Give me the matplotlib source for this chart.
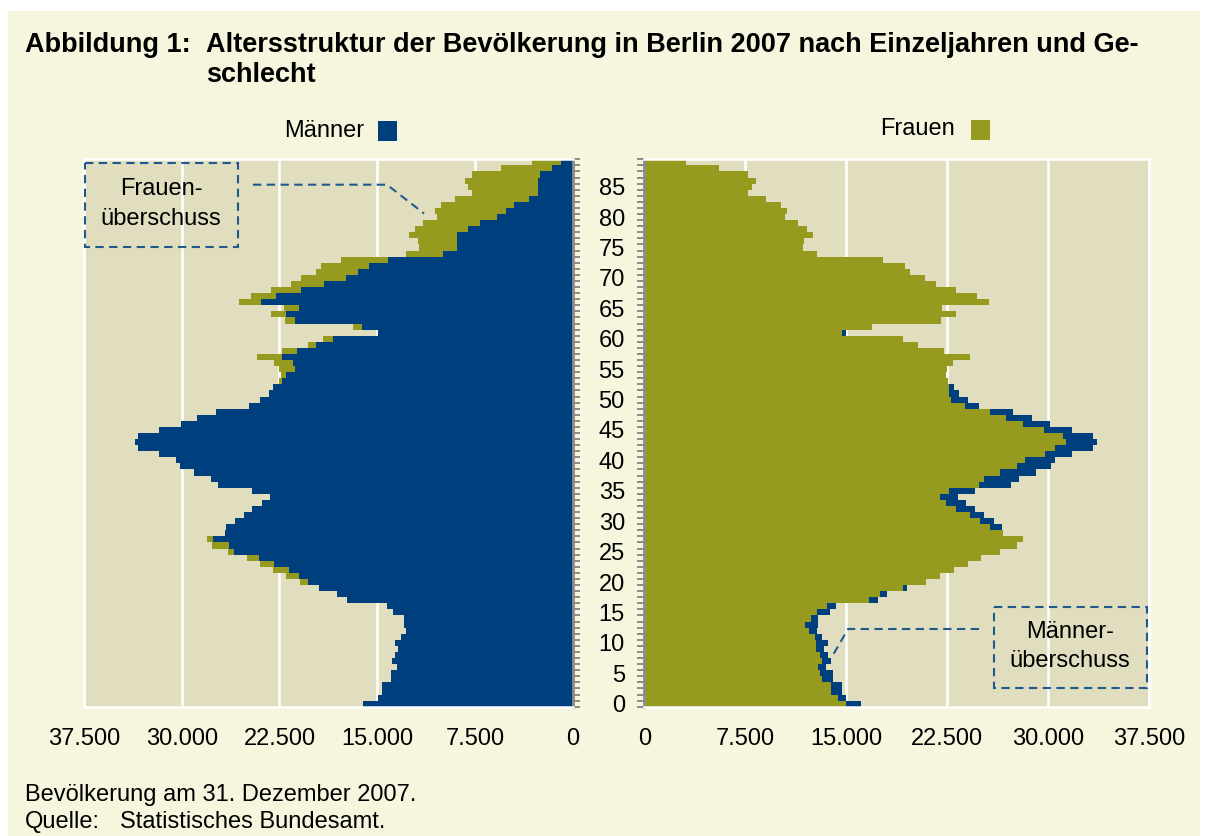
import matplotlib
matplotlib.use("Agg")
import matplotlib.pyplot as plt
import numpy as np
from matplotlib.patches import Rectangle

plt.rcParams['font.family'] = ['Liberation Sans', 'DejaVu Sans']

# Bevölkerung Berlin 2007 nach Einzeljahren (Alter 0..89)
ages = list(range(90))
men = [16100, 14950, 14650, 14650, 13980, 13980, 13520, 13830, 13670, 13370,
       13670, 13180, 12800, 12920, 12920, 13820, 14240, 17330, 18050, 19490,
       20300, 21000, 21770, 22920, 24070, 25990, 26370, 27600, 26650, 26580,
       25940, 25220, 24580, 23860, 23260, 24580, 27220, 27790, 29070, 30170,
       30470, 31750, 33340, 33600, 33340, 31750, 30090, 28810, 27370, 24850,
       24010, 23340, 23000, 22300, 22000, 21300, 21460, 22300, 21150, 19700,
       18420, 14970, 16170, 21310, 22000, 21000, 23920, 22770, 20850, 19080,
       17420, 16470, 15630, 14170, 9950, 8880, 8880, 8880, 8030, 7110,
       5810, 5120, 4500, 3350, 2690, 2690, 2690, 2510, 1590, 900]
women = [14950, 14350, 13830, 13830, 13230, 13080, 12930, 13230, 13080, 12780,
         12780, 12640, 12260, 11970, 12410, 12790, 13530, 16660, 17480, 19190,
         20920, 21980, 23000, 24010, 25000, 26430, 27680, 28090, 26600, 25640,
         24960, 24220, 23110, 22440, 21990, 22660, 24820, 25260, 26380, 27650,
         28240, 29730, 30470, 31290, 31070, 29650, 28090, 26830, 25640, 23850,
         22810, 22660, 22660, 22540, 22400, 22500, 22920, 24200, 22280, 20320,
         19180, 14650, 16880, 22050, 23150, 22130, 25600, 24690, 23150, 21640,
         20840, 19710, 19330, 17750, 12800, 11780, 11860, 12540, 12090, 11450,
         10430, 10580, 10130, 9000, 7710, 8000, 8300, 7710, 5520, 3110]
x_ticks = [0, 7500, 15000, 22500, 30000, 37500]
age_ticks = list(range(0, 90, 5))

CREAM = '#F6F6DF'
PLOT_BG = '#E1DDBF'
BLUE = '#003F7D'
OLIVE = '#969A1E'
GRAY = '#8C8C8C'
DASH = '#1F5A8C'
FS = 17
TFS = 19.5

W, H = 1206, 836
fig = plt.figure(figsize=(W / 100, H / 100), dpi=100)
fig.patch.set_facecolor('white')

# background in pixel coordinates
bg = fig.add_axes([0, 0, 1, 1], zorder=0)
bg.set_xlim(0, W)
bg.set_ylim(H, 0)
bg.axis('off')
bg.add_patch(Rectangle((8, 11), W - 14, H, color=CREAM, lw=0))


def fmt(v):
    return f"{v:,}".replace(',', '.')


def style_axis(ax, inner):
    ax.set_facecolor(PLOT_BG)
    ax.set_ylim(-0.5, 89.5)
    ax.set_xlim(0, 37500)
    ax.set_xticks(x_ticks)
    ax.set_xticklabels([fmt(v) for v in x_ticks], fontsize=FS)
    ax.tick_params(axis='x', length=0, pad=15)
    ax.grid(axis='x', color='white', lw=1.8)
    ax.set_axisbelow(True)
    for s in ax.spines.values():
        s.set_color('white')
        s.set_linewidth(1.8)
    ax.spines[inner].set_color(GRAY)
    ax.spines[inner].set_linewidth(2)
    ax.set_yticks(np.arange(-0.5, 90, 1), minor=True)
    ax.tick_params(axis='y', which='minor', length=5, width=1.4, color=GRAY,
                   direction='out')


# Männer (links)
axL = fig.add_axes([84 / W, 1 - 706.7 / H, 488.7 / W, 547.4 / H], zorder=1)
axL.barh(ages, women, height=1.0, color=OLIVE, lw=0)
axL.barh(ages, men, height=1.0, color=BLUE, lw=0)
style_axis(axL, 'right')
axL.set_xlim(37500, 0)
axL.yaxis.tick_right()
axL.set_yticks([])
axL.set_yticks(np.arange(-0.5, 90, 1), minor=True)
axL.tick_params(axis='y', which='minor', length=5, width=1.4, color=GRAY)

# Frauen (rechts)
axR = fig.add_axes([644.3 / W, 1 - 706.7 / H, 505 / W, 547.4 / H], zorder=1)
axR.barh(ages, men, height=1.0, color=BLUE, lw=0)
axR.barh(ages, women, height=1.0, color=OLIVE, lw=0)
style_axis(axR, 'left')
axR.set_yticks(age_ticks)
axR.set_yticklabels([str(a) for a in age_ticks], fontsize=FS)
axR.tick_params(axis='y', which='major', length=0, pad=14)

# overlay for texts and annotations
ov = fig.add_axes([0, 0, 1, 1], zorder=5)
ov.set_xlim(0, W)
ov.set_ylim(H, 0)
ov.axis('off')
ov.patch.set_alpha(0)

ov.text(25, 45, 'Abbildung 1:', fontsize=TFS, fontweight='bold', va='center')
ov.text(206, 45, 'Altersstruktur der Bevölkerung in Berlin 2007 nach Einzeljahren und Ge-',
        fontsize=TFS, fontweight='bold', va='center')
ov.text(206, 75, 'schlecht', fontsize=TFS, fontweight='bold', va='center')

ov.text(364, 131, 'Männer', fontsize=FS, ha='right', va='center')
ov.add_patch(Rectangle((378, 121), 19, 20, color=BLUE, lw=0))
ov.text(955, 129, 'Frauen', fontsize=FS, ha='right', va='center')
ov.add_patch(Rectangle((971, 120), 19, 20, color=OLIVE, lw=0))

dash = dict(color=DASH, lw=1.5, ls=(0, (4, 2.6)))
ov.add_patch(Rectangle((85, 162.5), 153, 84, fill=False, **dash))
ov.text(161, 189, 'Frauen-', fontsize=FS, ha='center', va='center')
ov.text(161, 219, 'überschuss', fontsize=FS, ha='center', va='center')
ov.plot([253, 387, 424], [184.7, 184.7, 213.5], **dash)

ov.add_patch(Rectangle((994, 607), 153, 81, fill=False, **dash))
ov.text(1070, 632, 'Männer-', fontsize=FS, ha='center', va='center')
ov.text(1070, 661, 'überschuss', fontsize=FS, ha='center', va='center')
ov.plot([979, 848, 833], [629, 629, 655], **dash)

ov.text(25, 795, 'Bevölkerung am 31. Dezember 2007.', fontsize=FS, va='center')
ov.text(25, 822, 'Quelle:', fontsize=FS, va='center')
ov.text(120, 822, 'Statistisches Bundesamt.', fontsize=FS, va='center')

fig.savefig('out.png', dpi=100, facecolor='white')
